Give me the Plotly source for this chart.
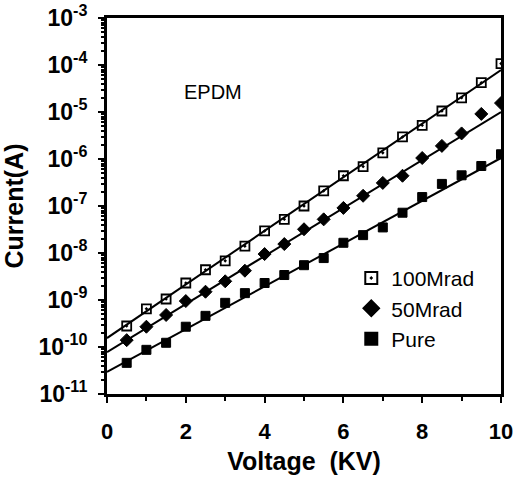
import plotly.graph_objects as go

voltage = [0.5, 1.0, 1.5, 2.0, 2.5, 3.0, 3.5, 4.0, 4.5, 5.0,
           5.5, 6.0, 6.5, 7.0, 7.5, 8.0, 8.5, 9.0, 9.5, 10.0]

current_100mrad = [2.8e-10, 6.5e-10, 1.05e-9, 2.3e-9, 4.4e-9, 6.8e-9, 1.4e-8, 2.95e-8, 5.2e-8, 1.0e-7,
                   2.1e-7, 4.4e-7, 6.9e-7, 1.35e-6, 2.95e-6, 5.2e-6, 1.05e-5, 2.0e-5, 4.2e-5, 1.07e-4]
current_50mrad = [1.4e-10, 2.7e-10, 4.8e-10, 9.5e-10, 1.5e-9, 2.5e-9, 4.2e-9, 9.5e-9, 1.55e-8, 3.2e-8,
                  5.2e-8, 9.1e-8, 1.65e-7, 3.1e-7, 4.4e-7, 1.05e-6, 1.9e-6, 3.5e-6, 9.1e-6, 1.55e-5]
current_pure = [4.6e-11, 8.7e-11, 1.23e-10, 2.7e-10, 4.6e-10, 8.7e-10, 1.4e-9, 2.3e-9, 3.4e-9, 5.5e-9,
                7.8e-9, 1.65e-8, 2.4e-8, 3.5e-8, 7.2e-8, 1.55e-7, 2.95e-7, 4.5e-7, 7.1e-7, 1.26e-6]

# fitted lines (end points)
fit_x = [0.0, 10.0]
fit_100mrad = [1.55e-10, 7.8e-5]
fit_50mrad = [7.8e-11, 1.0e-5]
fit_pure = [2.95e-11, 1.05e-6]

series_names = ["100Mrad", "50Mrad", "Pure"]
x_tickvals = [0, 2, 4, 6, 8, 10]
x_ticktext = ["0", "2", "4", "6", "8", "10"]
y_exponents = [-3, -4, -5, -6, -7, -8, -9, -10, -11]

FAM = "Liberation Sans, Arial, sans-serif"

fig = go.Figure()

for fy in [fit_100mrad, fit_50mrad, fit_pure]:
    fig.add_trace(go.Scatter(x=fit_x, y=fy, mode="lines",
                             line=dict(color="black", width=2), showlegend=False,
                             hoverinfo="skip"))

marker_styles = [
    dict(symbol="square-open-dot", size=9, color="black", line=dict(color="black", width=1.8)),
    dict(symbol="diamond", size=10, color="black", line=dict(color="black", width=1)),
    dict(symbol="square", size=9, color="black", line=dict(color="black", width=1)),
]
for name, ys, ms in zip(series_names, [current_100mrad, current_50mrad, current_pure], marker_styles):
    fig.add_trace(go.Scatter(x=voltage, y=ys, mode="markers", name=name, marker=ms))

y_minor = [m * 10.0 ** e for e in range(-11, -3) for m in range(2, 10)]

fig.update_layout(
    width=515, height=486,
    margin=dict(l=107, r=14, t=18, b=92),
    paper_bgcolor="white", plot_bgcolor="white",
    showlegend=True,
    legend=dict(x=0.62, y=0.362, xanchor="left", yanchor="top",
                bgcolor="rgba(0,0,0,0)",
                font=dict(family=FAM, size=21, color="black"),
                tracegroupgap=0, itemsizing="constant"),
    xaxis=dict(range=[0, 10], tickvals=x_tickvals, ticktext=x_ticktext,
               ticks="outside", ticklen=6, tickwidth=2, tickcolor="black",
               minor=dict(tickvals=[1, 3, 5, 7, 9], ticks="outside", ticklen=4, tickwidth=1.5, tickcolor="black"),
               showline=True, linecolor="black", linewidth=3, mirror=True,
               showgrid=False, zeroline=False, automargin=False,
               tickfont=dict(family=FAM, size=22, color="black", weight="bold"),
               ticklabelstandoff=10, ticklabeloverflow="allow",
               title=dict(text="Voltage  (KV)", font=dict(family=FAM, size=25, color="black", weight="bold"),
                          standoff=10)),
    yaxis=dict(type="log", range=[-11, -3],
               tickvals=[10.0 ** e for e in y_exponents],
               ticktext=["10<sup>%d</sup>" % e for e in y_exponents],
               ticks="outside", ticklen=6, tickwidth=2, tickcolor="black",
               minor=dict(tickvals=y_minor, ticks="outside", ticklen=3, tickwidth=1.5, tickcolor="black"),
               showline=True, linecolor="black", linewidth=3, mirror=True,
               showgrid=False, zeroline=False, automargin=False,
               tickfont=dict(family=FAM, size=23, color="black", weight="bold"),
               ticklabelstandoff=6, ticklabeloverflow="allow",
               title=dict(text="Current(A)", font=dict(family=FAM, size=25, color="black", weight="bold"),
                          standoff=8)),
    annotations=[dict(text="EPDM", x=0.269, y=0.803, xref="paper", yref="paper",
                      xanchor="center", yanchor="middle",
                      showarrow=False,
                      font=dict(family=FAM, size=20, color="black"))],
)

# remove the default page margin so the figure fills the window exactly
fig.write_html("out.html", config={"displayModeBar": False},
               post_script="document.body.style.margin='0';document.body.style.overflow='hidden';")
